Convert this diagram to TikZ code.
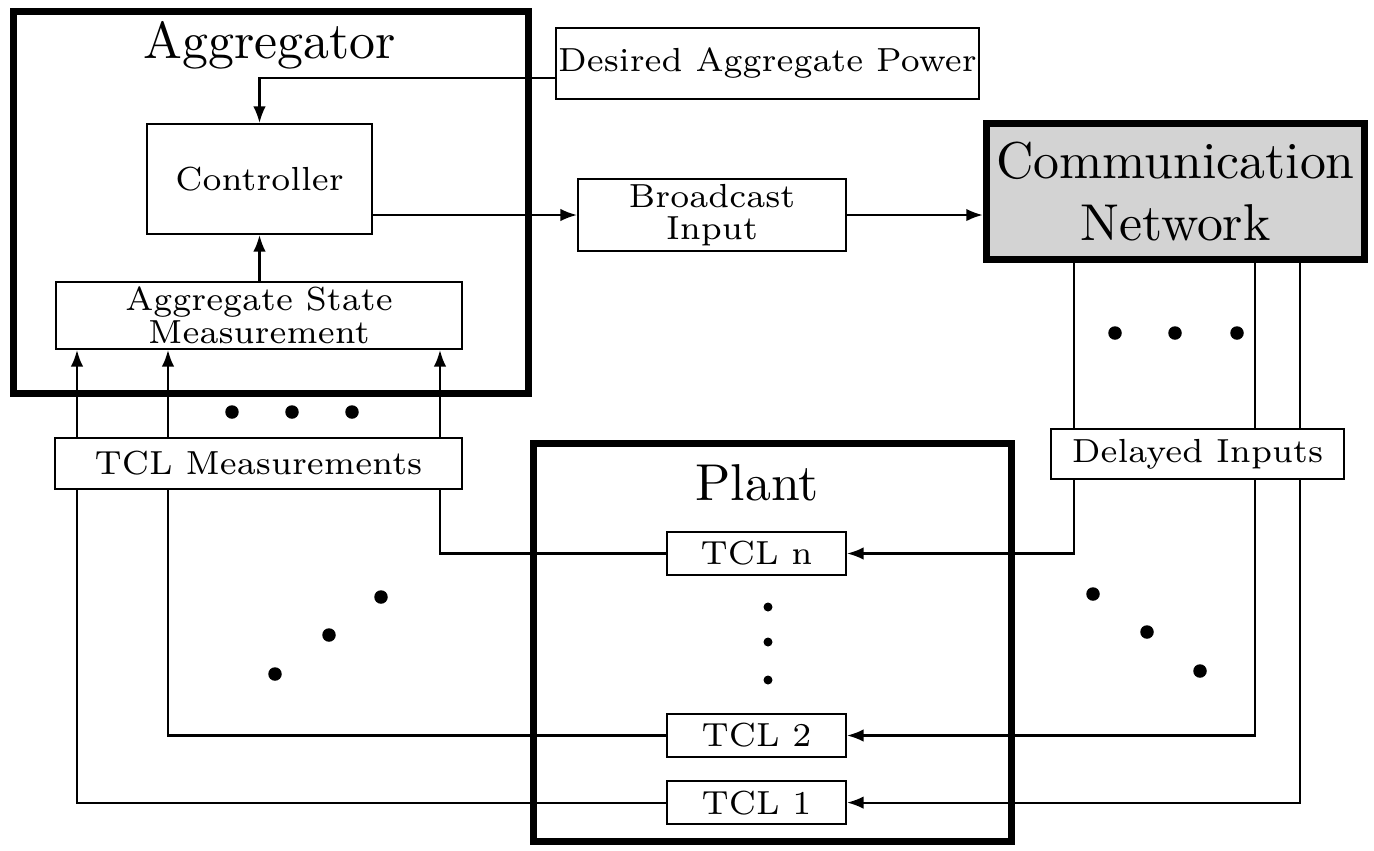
\documentclass[tikz,border=0pt]{standalone}
\usepackage{fontspec}
\usepackage{tikz}
\usetikzlibrary{positioning,arrows.meta,calc}
\newfontfamily\boxfont{lmroman7-regular.otf}
\newfontfamily\titlefont{lmroman10-regular.otf}
\definecolor{netgray}{RGB}{211,211,211}
\tikzset{
  box/.style={draw, fill=white, line width=1.2pt, inner sep=0pt, align=center,
    font=\boxfont\fontsize{19}{18.5}\selectfont},
  frame/.style={draw, line width=4.3pt, inner sep=0pt},
  title/.style={inner sep=0pt, align=center, font=\titlefont\fontsize{29.5}{35}\selectfont},
  flow/.style={-{Latex[length=3.3mm,width=2.5mm]}, line width=1.25pt},
  wire/.style={line width=1.25pt},
}

\begin{document}
\begin{tikzpicture}[x=0.02cm,y=-0.02cm]
  \useasboundingbox (0,0) rectangle (1374,850);
  % frames
  \node[frame, minimum width=10.3cm, minimum height=7.64cm] (agg) at (271,202.5) {};
  \node[title] (aggtitle) at (270,45.5) {Aggregator};
  \node[frame, minimum width=9.56cm, minimum height=7.96cm] (plant) at (772.5,642.5) {};
  \node[title] (planttitle) at (757,483) {Plant};
  \node[frame, title, fill=netgray, minimum width=7.56cm, minimum height=2.72cm] (net)
    at (1175.5,191.5) {Communication\\Network};
  % blocks
  \node[box, minimum width=8.46cm, minimum height=1.42cm] (desired) at (767.5,63.5) {Desired Aggregate Power};
  \node[box, minimum width=4.5cm, minimum height=2.2cm] (ctrl) at (259.5,179) {Controller};
  \node[box, minimum width=8.12cm, minimum height=1.34cm] (asm) at (259,315.5) {Aggregate State\\Measurement};
  \node[box, minimum width=5.36cm, minimum height=1.44cm] (bcast) at (712,215) {Broadcast\\Input};
  \node[box, minimum width=8.14cm, minimum height=1.02cm] (meas) at (258.5,463.5) {TCL Measurements};
  \node[box, minimum width=5.86cm, minimum height=1.0cm] (delayed) at (1197.5,454) {Delayed Inputs};
  \node[box, minimum width=3.58cm, minimum height=0.86cm] (tcln) at (756.5,553.5) {TCL n};
  \node[box, minimum width=3.58cm, minimum height=0.86cm] (tcl2) at (756.5,735.5) {TCL 2};
  \node[box, minimum width=3.58cm, minimum height=0.86cm, below=0.44cm of tcl2] (tcl1) {TCL 1};
  % aggregator links
  \draw[flow] ([yshift=-0.29cm]desired.west) -| (ctrl.north);
  \draw[flow] (ctrl.south |- asm.north) -- (ctrl.south);
  \draw[flow] (ctrl.east |- bcast.west) -- (bcast.west);
  \draw[flow] (bcast.east) -- (bcast.east -| net.west);
  \foreach \x in {77,168,440}
    \draw[flow] (\x,0 |- meas.north) -- (\x,0 |- asm.south);
  \draw[wire] (440,0 |- meas.south) |- (tcln.west);
  \draw[wire] (168,0 |- meas.south) |- (tcl2.west);
  \draw[wire] (77,0 |- meas.south) |- (tcl1.west);
  % network links
  \foreach \x in {1074,1255,1300}
    \draw[wire] (\x,0 |- net.south) -- (\x,0 |- delayed.north);
  \draw[flow] (1074,0 |- delayed.south) |- (tcln.east);
  \draw[flow] (1255,0 |- delayed.south) |- (tcl2.east);
  \draw[flow] (1300,0 |- delayed.south) |- (tcl1.east);
  % dots
  \foreach \x in {232,292,352}
    \fill (\x,412) circle[radius=0.135cm];
  \foreach \x in {1115,1175,1237}
    \fill (\x,333) circle[radius=0.135cm];
  \foreach \p in {(275,674),(329,635),(381,597),(1093,594),(1147,632),(1200,671)}
    \fill \p circle[radius=0.135cm];
  \foreach \y in {607,642,680}
    \fill (768,\y) circle[radius=0.09cm];
\end{tikzpicture}
\end{document}
